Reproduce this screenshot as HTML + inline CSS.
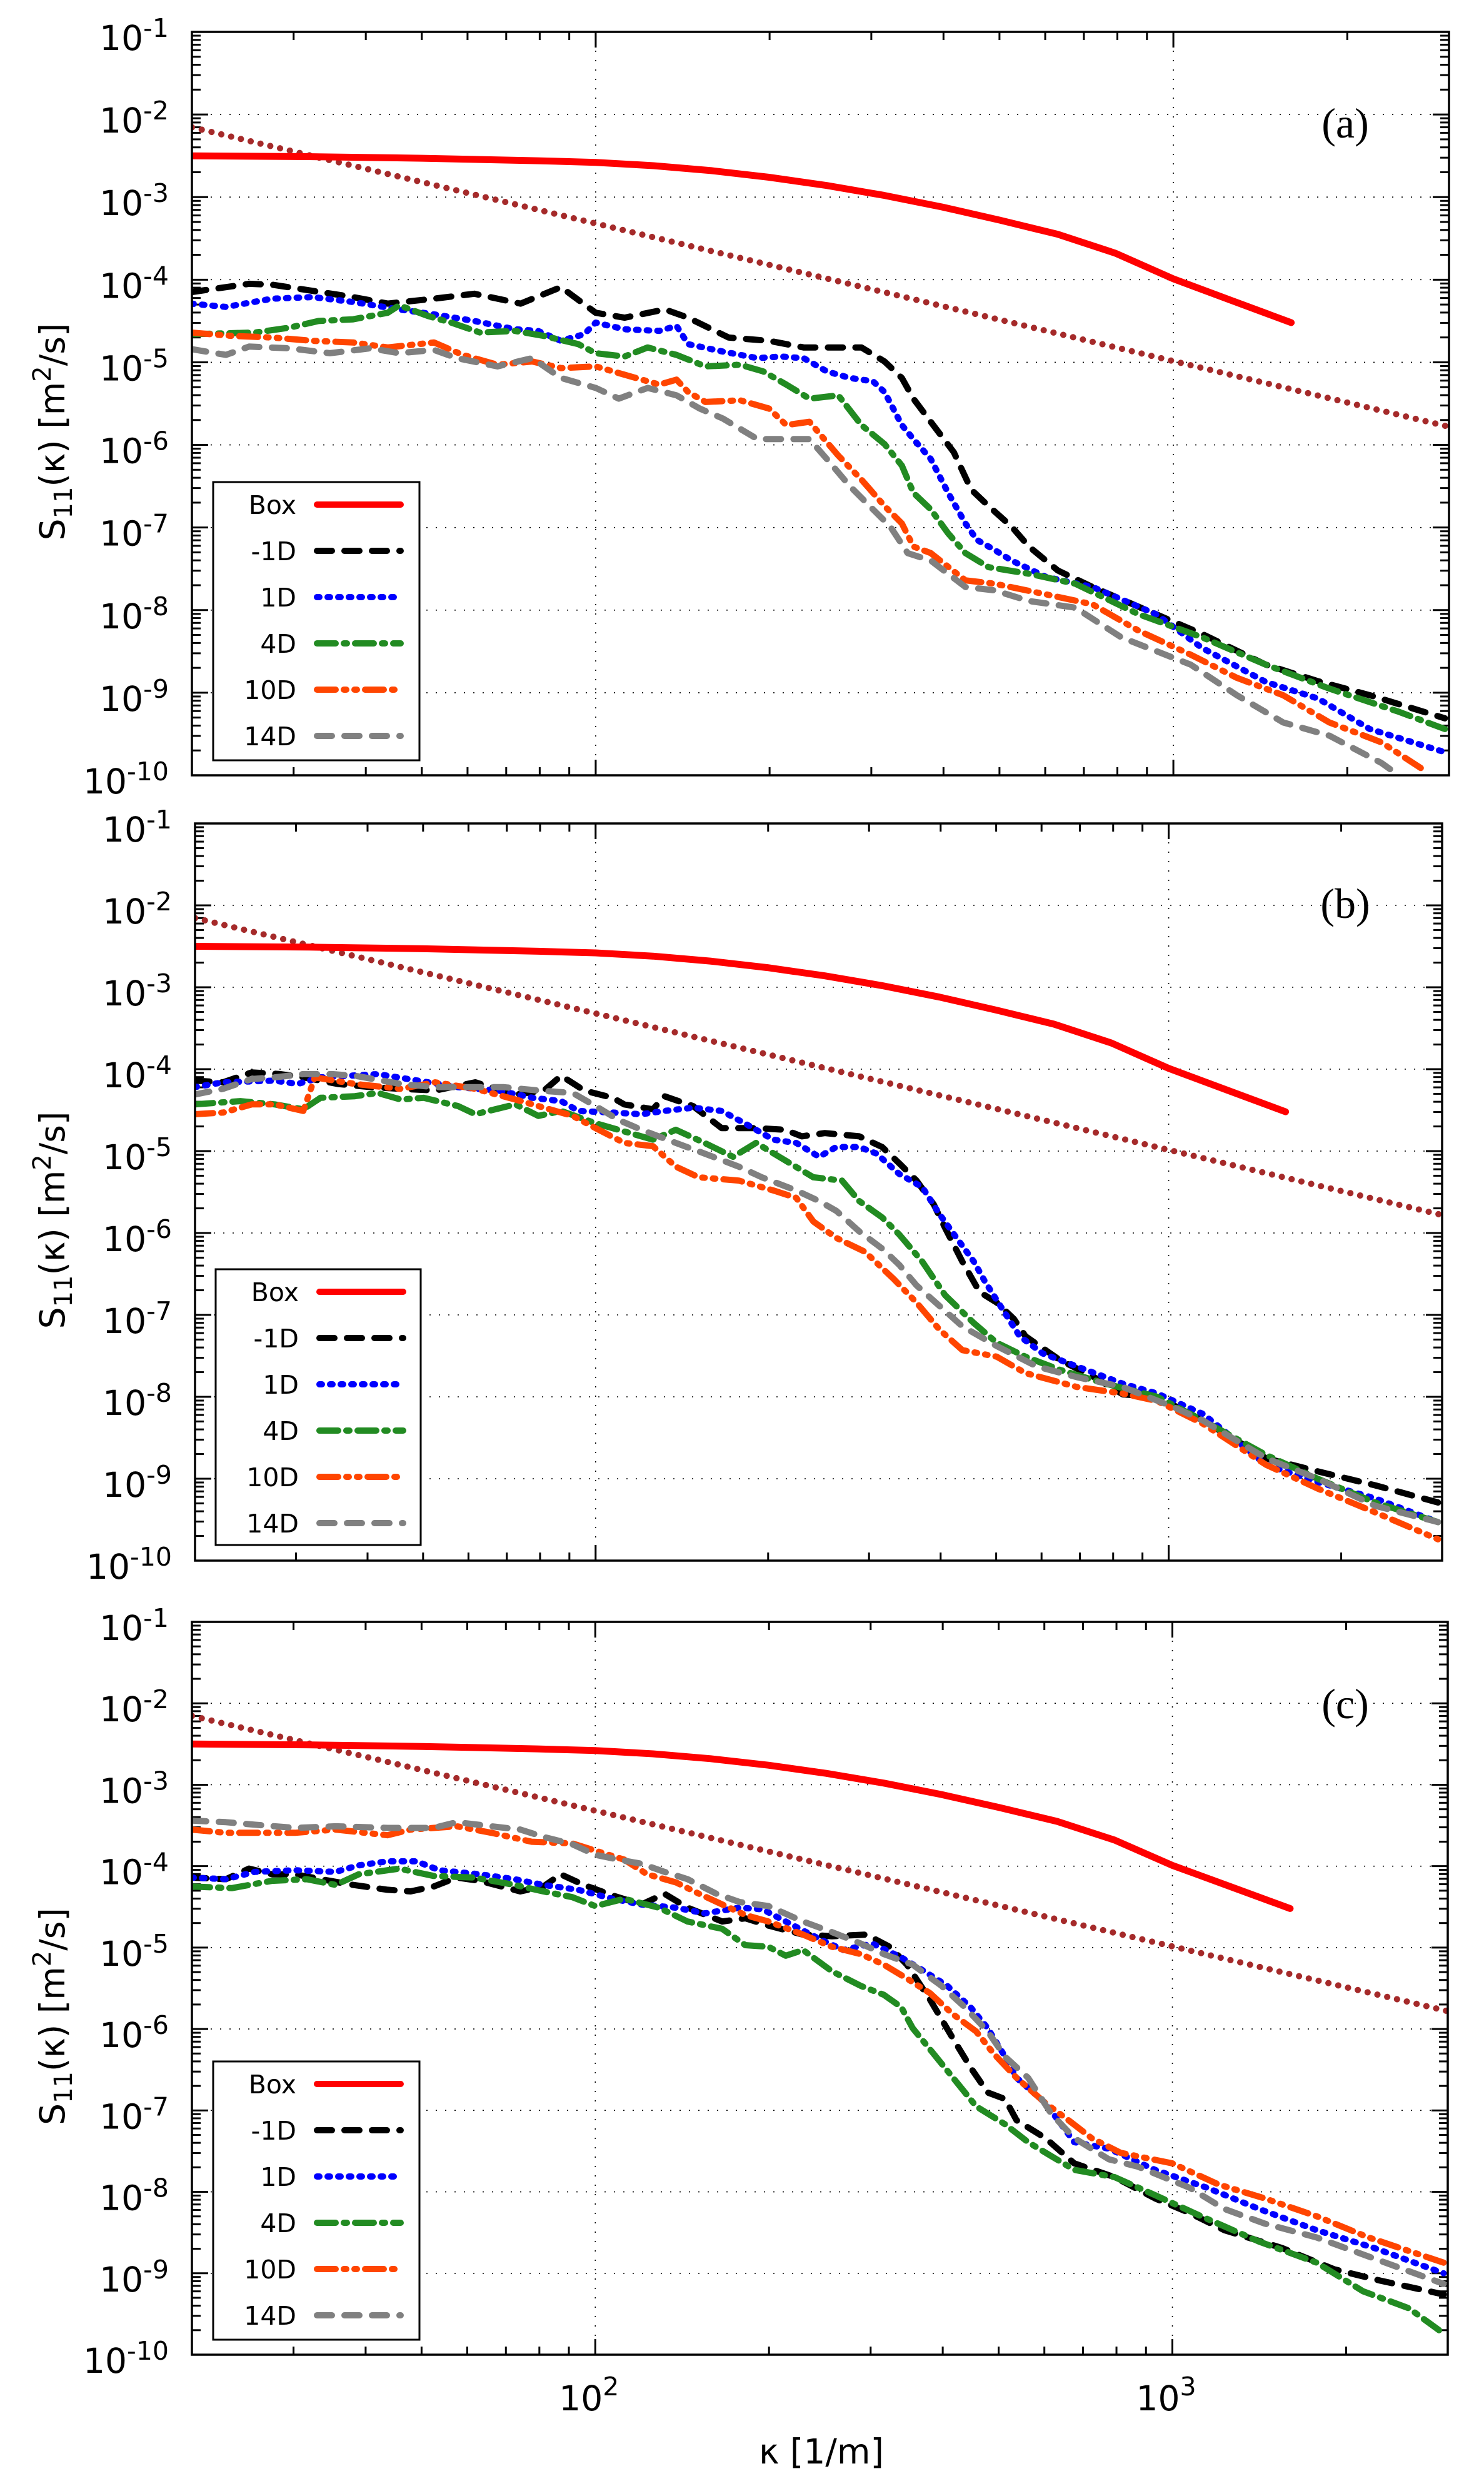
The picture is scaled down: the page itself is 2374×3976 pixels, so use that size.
<!DOCTYPE html>
<html><head><meta charset="utf-8"><style>
html,body{margin:0;padding:0;background:#fff}
svg{display:block}
</style></head><body>
<svg id="chart" xmlns="http://www.w3.org/2000/svg" width="2374" height="3976" viewBox="0 0 2374 3976">
<rect width="2374" height="3976" fill="#fff"/>
</svg>
<script>
// ---- Shared data ----
const boxLogK = [1.301,1.5,1.7,1.9,2.0,2.1,2.2,2.3,2.4,2.5,2.6,2.7,2.8,2.9,3.0,3.1,3.204];
const boxLogS = [-2.50,-2.51,-2.53,-2.56,-2.58,-2.62,-2.68,-2.76,-2.86,-2.98,-3.12,-3.28,-3.45,-3.68,-3.99,-4.25,-4.52];
const refLogK = [1.301,3.477];
const refLogS = [-2.155,-5.78];
const yTickExps = [-1,-2,-3,-4,-5,-6,-7,-8,-9,-10];
const xTickExps = [2,3];
const seriesNames = ["Box","-1D","1D","4D","10D","14D"];

// ---- Panel (a) ----
const a_m1_k=[1.30,1.40,1.44,1.58,1.64,1.72,1.79,1.87,1.94,2.00,2.05,2.12,2.16,2.23,2.30,2.36,2.46,2.50,2.53,2.55,2.58,2.62,2.65,2.68,2.72,2.75,2.80,2.86,2.97,3.05,3.16,3.25,3.34,3.47];
const a_m1_s=[-4.15,-4.05,-4.06,-4.21,-4.29,-4.23,-4.17,-4.29,-4.09,-4.40,-4.46,-4.36,-4.46,-4.70,-4.74,-4.82,-4.82,-4.99,-5.19,-5.44,-5.72,-6.09,-6.54,-6.74,-6.99,-7.23,-7.52,-7.72,-8.05,-8.29,-8.66,-8.86,-9.03,-9.31];
const a_1_k=[1.30,1.36,1.44,1.51,1.58,1.66,1.72,1.79,1.86,1.90,1.94,1.98,2.00,2.05,2.11,2.14,2.16,2.22,2.28,2.32,2.36,2.40,2.44,2.48,2.50,2.53,2.55,2.58,2.61,2.64,2.66,2.69,2.72,2.78,2.86,2.97,3.05,3.16,3.25,3.34,3.47];
const a_1_s=[-4.29,-4.33,-4.23,-4.21,-4.27,-4.36,-4.42,-4.50,-4.60,-4.62,-4.74,-4.66,-4.52,-4.60,-4.62,-4.56,-4.78,-4.87,-4.95,-4.93,-4.95,-5.11,-5.19,-5.23,-5.36,-5.76,-5.93,-6.17,-6.58,-6.95,-7.15,-7.27,-7.40,-7.60,-7.72,-8.05,-8.46,-8.87,-9.07,-9.44,-9.72];
const a_4_k=[1.30,1.41,1.47,1.52,1.58,1.64,1.66,1.71,1.75,1.80,1.86,1.91,1.97,2.00,2.05,2.09,2.14,2.19,2.25,2.29,2.33,2.37,2.42,2.46,2.50,2.53,2.55,2.58,2.61,2.64,2.68,2.75,2.83,2.94,3.05,3.16,3.27,3.39,3.47];
const a_4_s=[-4.66,-4.64,-4.58,-4.50,-4.48,-4.40,-4.31,-4.44,-4.52,-4.64,-4.62,-4.68,-4.78,-4.89,-4.93,-4.82,-4.91,-5.05,-5.03,-5.11,-5.27,-5.44,-5.40,-5.76,-5.99,-6.25,-6.58,-6.78,-7.07,-7.31,-7.48,-7.56,-7.68,-8.05,-8.33,-8.66,-8.95,-9.23,-9.44];
const a_10_k=[1.30,1.37,1.44,1.51,1.58,1.64,1.72,1.77,1.83,1.89,1.94,2.00,2.05,2.11,2.14,2.16,2.19,2.25,2.30,2.33,2.37,2.42,2.46,2.50,2.53,2.55,2.58,2.64,2.69,2.78,2.86,2.94,3.03,3.11,3.19,3.27,3.36,3.43];
const a_10_s=[-4.64,-4.68,-4.70,-4.74,-4.76,-4.82,-4.76,-4.91,-5.03,-4.99,-5.07,-5.05,-5.15,-5.27,-5.21,-5.36,-5.48,-5.46,-5.56,-5.76,-5.72,-6.13,-6.42,-6.74,-6.95,-7.23,-7.31,-7.64,-7.68,-7.81,-7.93,-8.25,-8.54,-8.82,-9.03,-9.36,-9.60,-9.92];
const a_14_k=[1.30,1.36,1.40,1.47,1.54,1.61,1.66,1.72,1.76,1.83,1.89,1.94,2.00,2.04,2.09,2.14,2.18,2.22,2.28,2.33,2.37,2.40,2.44,2.48,2.51,2.54,2.58,2.64,2.69,2.75,2.83,2.91,3.03,3.11,3.19,3.27,3.36,3.39];
const a_14_s=[-4.84,-4.91,-4.81,-4.83,-4.89,-4.83,-4.89,-4.85,-4.95,-5.05,-4.95,-5.19,-5.31,-5.44,-5.31,-5.40,-5.56,-5.68,-5.93,-5.93,-5.93,-6.17,-6.50,-6.78,-6.99,-7.31,-7.40,-7.72,-7.76,-7.89,-7.97,-8.33,-8.66,-9.03,-9.36,-9.52,-9.85,-10.0];

// ---- Panel (b) ----
const b_m1_k=[1.30,1.35,1.40,1.45,1.49,1.55,1.61,1.66,1.72,1.79,1.86,1.91,1.94,1.98,2.03,2.05,2.10,2.12,2.17,2.22,2.28,2.33,2.36,2.40,2.46,2.50,2.53,2.56,2.59,2.61,2.64,2.67,2.70,2.73,2.75,2.81,2.87,2.92,2.98,3.06,3.17,3.26,3.36,3.47];
const b_m1_s=[-4.14,-4.16,-4.04,-4.06,-4.10,-4.18,-4.22,-4.24,-4.26,-4.16,-4.31,-4.26,-4.08,-4.26,-4.35,-4.43,-4.49,-4.33,-4.45,-4.72,-4.72,-4.74,-4.82,-4.78,-4.82,-4.95,-5.15,-5.36,-5.65,-5.94,-6.35,-6.72,-6.85,-7.05,-7.26,-7.55,-7.76,-7.97,-8.00,-8.29,-8.75,-8.91,-9.08,-9.29];
const b_1_k=[1.30,1.35,1.44,1.48,1.52,1.62,1.69,1.76,1.83,1.89,1.94,1.97,2.03,2.08,2.12,2.17,2.22,2.26,2.31,2.35,2.39,2.42,2.46,2.49,2.53,2.57,2.60,2.63,2.66,2.68,2.71,2.74,2.78,2.84,2.92,2.98,3.06,3.17,3.26,3.36,3.47];
const b_1_s=[-4.22,-4.16,-4.14,-4.18,-4.10,-4.06,-4.14,-4.22,-4.26,-4.35,-4.39,-4.51,-4.53,-4.55,-4.51,-4.47,-4.51,-4.66,-4.86,-4.90,-5.07,-4.95,-4.95,-5.03,-5.28,-5.44,-5.77,-6.06,-6.35,-6.60,-6.93,-7.26,-7.47,-7.63,-7.84,-7.96,-8.21,-8.83,-9.04,-9.24,-9.53];
const b_4_k=[1.30,1.38,1.44,1.49,1.52,1.58,1.62,1.66,1.70,1.76,1.79,1.86,1.90,1.94,2.00,2.05,2.10,2.14,2.19,2.24,2.28,2.33,2.38,2.43,2.46,2.50,2.53,2.57,2.61,2.66,2.70,2.75,2.81,2.89,2.98,3.06,3.17,3.26,3.36,3.47];
const b_4_s=[-4.43,-4.39,-4.43,-4.49,-4.35,-4.33,-4.29,-4.37,-4.35,-4.45,-4.55,-4.43,-4.57,-4.51,-4.66,-4.76,-4.86,-4.74,-4.90,-5.07,-4.90,-5.11,-5.32,-5.36,-5.61,-5.81,-6.02,-6.35,-6.76,-7.10,-7.34,-7.51,-7.67,-7.84,-8.00,-8.29,-8.71,-9.00,-9.29,-9.53];
const b_10_k=[1.30,1.35,1.40,1.44,1.49,1.51,1.58,1.66,1.72,1.79,1.86,1.91,1.96,2.00,2.05,2.10,2.14,2.18,2.25,2.31,2.35,2.38,2.42,2.47,2.52,2.56,2.60,2.64,2.70,2.75,2.84,2.92,2.98,3.06,3.17,3.26,3.36,3.47];
const b_10_s=[-4.55,-4.53,-4.43,-4.43,-4.51,-4.10,-4.18,-4.24,-4.16,-4.24,-4.37,-4.47,-4.57,-4.72,-4.90,-4.94,-5.19,-5.32,-5.36,-5.48,-5.57,-5.86,-6.06,-6.23,-6.56,-6.85,-7.18,-7.43,-7.51,-7.71,-7.88,-7.96,-8.05,-8.33,-8.83,-9.12,-9.41,-9.74];
const b_14_k=[1.30,1.35,1.40,1.44,1.49,1.54,1.58,1.66,1.72,1.79,1.84,1.90,1.96,2.00,2.04,2.08,2.14,2.19,2.25,2.29,2.35,2.39,2.42,2.46,2.50,2.53,2.56,2.60,2.64,2.70,2.77,2.84,2.92,3.01,3.06,3.17,3.26,3.36,3.47];
const b_14_s=[-4.31,-4.24,-4.12,-4.10,-4.06,-4.06,-4.08,-4.18,-4.22,-4.22,-4.22,-4.26,-4.29,-4.45,-4.62,-4.74,-4.90,-5.03,-5.19,-5.32,-5.48,-5.61,-5.73,-5.98,-6.19,-6.39,-6.64,-6.89,-7.14,-7.38,-7.63,-7.76,-7.88,-8.13,-8.29,-8.75,-9.00,-9.33,-9.53];

// ---- Panel (c) ----
const c_m1_k=[1.30,1.36,1.40,1.44,1.48,1.54,1.58,1.64,1.68,1.72,1.76,1.80,1.87,1.91,1.94,1.98,2.03,2.08,2.12,2.16,2.22,2.26,2.30,2.36,2.41,2.47,2.51,2.54,2.58,2.62,2.65,2.68,2.71,2.73,2.78,2.83,2.90,2.97,3.03,3.09,3.19,3.28,3.36,3.47];
const c_m1_s=[-4.14,-4.16,-4.03,-4.10,-4.10,-4.18,-4.23,-4.29,-4.31,-4.25,-4.14,-4.18,-4.31,-4.25,-4.10,-4.23,-4.36,-4.47,-4.34,-4.51,-4.68,-4.64,-4.73,-4.84,-4.86,-4.84,-4.99,-5.21,-5.64,-6.12,-6.47,-6.78,-6.86,-7.12,-7.34,-7.65,-7.82,-8.08,-8.26,-8.47,-8.69,-8.95,-9.09,-9.26];
const c_1_k=[1.30,1.36,1.41,1.48,1.55,1.59,1.64,1.69,1.73,1.80,1.86,1.91,1.97,2.03,2.08,2.14,2.19,2.25,2.29,2.33,2.39,2.43,2.48,2.53,2.57,2.61,2.65,2.68,2.71,2.73,2.78,2.83,2.89,2.97,3.06,3.15,3.25,3.35,3.47];
const c_1_s=[-4.14,-4.16,-4.07,-4.05,-4.07,-3.99,-3.94,-3.94,-4.05,-4.10,-4.16,-4.23,-4.29,-4.40,-4.47,-4.51,-4.58,-4.51,-4.53,-4.68,-4.90,-5.03,-4.95,-5.12,-5.29,-5.47,-5.73,-5.99,-6.34,-6.60,-6.91,-7.39,-7.47,-7.73,-7.95,-8.21,-8.47,-8.69,-9.00];
const c_4_k=[1.30,1.37,1.44,1.50,1.55,1.59,1.66,1.72,1.79,1.86,1.91,1.96,2.00,2.05,2.11,2.16,2.22,2.26,2.30,2.33,2.36,2.41,2.46,2.50,2.53,2.55,2.58,2.62,2.66,2.71,2.75,2.79,2.83,2.90,2.97,3.05,3.15,3.25,3.33,3.41,3.47];
const c_4_s=[-4.25,-4.27,-4.18,-4.16,-4.23,-4.10,-4.03,-4.12,-4.14,-4.23,-4.31,-4.38,-4.49,-4.40,-4.51,-4.68,-4.77,-4.97,-4.99,-5.10,-5.03,-5.29,-5.47,-5.58,-5.73,-5.99,-6.25,-6.60,-6.95,-7.17,-7.39,-7.56,-7.73,-7.82,-8.04,-8.30,-8.61,-8.87,-9.22,-9.43,-9.74];
const c_10_k=[1.30,1.36,1.41,1.48,1.55,1.64,1.68,1.72,1.76,1.82,1.89,1.96,2.00,2.05,2.09,2.14,2.18,2.22,2.26,2.30,2.36,2.41,2.46,2.50,2.54,2.58,2.62,2.66,2.69,2.73,2.78,2.82,2.86,2.91,3.00,3.08,3.16,3.25,3.34,3.47];
const c_10_s=[-3.55,-3.59,-3.59,-3.59,-3.55,-3.62,-3.55,-3.53,-3.51,-3.59,-3.70,-3.72,-3.81,-3.92,-4.10,-4.20,-4.34,-4.47,-4.60,-4.68,-4.84,-4.99,-5.08,-5.21,-5.38,-5.56,-5.82,-6.03,-6.30,-6.60,-6.91,-7.12,-7.34,-7.52,-7.65,-7.91,-8.08,-8.30,-8.56,-8.87];
const c_14_k=[1.30,1.36,1.41,1.48,1.55,1.64,1.68,1.72,1.76,1.82,1.87,1.91,1.96,2.00,2.04,2.08,2.12,2.16,2.21,2.25,2.30,2.36,2.41,2.46,2.50,2.55,2.60,2.64,2.68,2.71,2.75,2.79,2.83,2.89,2.94,3.03,3.09,3.16,3.25,3.35,3.47];
const c_14_s=[-3.44,-3.46,-3.49,-3.53,-3.51,-3.53,-3.53,-3.53,-3.46,-3.51,-3.55,-3.64,-3.73,-3.86,-3.92,-3.97,-4.07,-4.16,-4.34,-4.44,-4.49,-4.68,-4.81,-4.95,-5.08,-5.21,-5.47,-5.73,-6.03,-6.34,-6.60,-7.04,-7.34,-7.60,-7.69,-7.95,-8.21,-8.39,-8.56,-8.82,-9.13];

const NS="http://www.w3.org/2000/svg";
const svg=document.getElementById('chart');
function mk(tag,attrs,parent){const e=document.createElementNS(NS,tag);for(const k in attrs)e.setAttribute(k,attrs[k]);(parent||svg).appendChild(e);return e;}

const styles={
 "Box":{color:"#ff0000",dash:""},
 "-1D":{color:"#000000",dash:"24 20"},
 "1D":{color:"#0000ff",dash:"4 13"},
 "4D":{color:"#228b22",dash:"30 13 5 13"},
 "10D":{color:"#ff4500",dash:"30 13 4 13 4 13"},
 "14D":{color:"#808080",dash:"24 20"}
};

const panels=[
 {id:"a",L:307,R:2318,T:51,B:1240,label:"(a)",labY:220,leg:{L:341,R:671,T:771,B:1216},
  series:[["-1D",a_m1_k,a_m1_s],["1D",a_1_k,a_1_s],["4D",a_4_k,a_4_s],["10D",a_10_k,a_10_s],["14D",a_14_k,a_14_s]]},
 {id:"b",L:312,R:2307,T:1317,B:2496,label:"(b)",labY:1468,leg:{L:345,R:673,T:2030,B:2471},
  series:[["-1D",b_m1_k,b_m1_s],["1D",b_1_k,b_1_s],["4D",b_4_k,b_4_s],["10D",b_10_k,b_10_s],["14D",b_14_k,b_14_s]]},
 {id:"c",L:307,R:2316,T:2594,B:3766,label:"(c)",labY:2748,leg:{L:341,R:671,T:3297,B:3742},
  series:[["-1D",c_m1_k,c_m1_s],["1D",c_1_k,c_1_s],["4D",c_4_k,c_4_s],["10D",c_10_k,c_10_s],["14D",c_14_k,c_14_s]]}
];
const KMIN=Math.log10(20), KMAX=Math.log10(3000);

panels.forEach((p,pi)=>{
 const g=mk('g',{});
 
 
 const xs=lk=>p.L+(lk-KMIN)/(KMAX-KMIN)*(p.R-p.L);
 const ys=ls=>p.T+(-1-ls)/9*(p.B-p.T);
 for(let e=-2;e>=-9;e--){const y=ys(e);const gl=mk('line',{x1:p.L,x2:p.R,y1:y,y2:y,stroke:"#000","stroke-width":1.6,"stroke-dasharray":"2 13"},g);
  }
 [2,3].forEach(e=>{const x=xs(e);const gl=mk('line',{x1:x,x2:x,y1:p.T,y2:p.B,stroke:"#000","stroke-width":1.6,"stroke-dasharray":"2 13"},g);
  });
 const tk=mk('g',{stroke:"#000","stroke-width":3},g);
 
 for(let e=-1;e>=-10;e--){
  const y=ys(e);
  mk('line',{x1:p.L,x2:p.L+26,y1:y,y2:y},tk);mk('line',{x1:p.R,x2:p.R-26,y1:y,y2:y},tk);
  if(e>-10)for(let m=2;m<=9;m++){const yy=ys(e-1+Math.log10(m));
   mk('line',{x1:p.L,x2:p.L+14,y1:yy,y2:yy},tk);mk('line',{x1:p.R,x2:p.R-14,y1:yy,y2:yy},tk);}
 }
 const xt=[30,40,50,60,70,80,90,100,200,300,400,500,600,700,800,900,1000,2000,3000];
 xt.forEach(v=>{const x=xs(Math.log10(v));const len=(v===100||v===1000)?25:13;
  if(x>p.R-1)return;
  mk('line',{x1:x,x2:x,y1:p.B,y2:p.B-len},tk);mk('line',{x1:x,x2:x,y1:p.T,y2:p.T+len},tk);});
 yTickExps.forEach(e=>{const y=ys(e);
  const t=mk('text',{x:p.L-37,y:y+29,"text-anchor":"end","font-family":"DejaVu Sans, Liberation Sans, sans-serif","font-size":55,fill:"#000"},g);
  
  t.appendChild(document.createTextNode("10"));
  const s=mk('tspan',{dy:-21,"font-size":41},t);s.textContent=String(e);
 });
 const cy=(p.T+p.B)/2+45;
 const yt=mk('text',{x:0,y:0,transform:`translate(103,${cy}) rotate(-90)`,"text-anchor":"middle","font-family":"DejaVu Sans, Liberation Sans, sans-serif","font-size":55,fill:"#000"},g);
 
 yt.appendChild(document.createTextNode("S"));
 const sub=mk('tspan',{dy:12,"font-size":40},yt);sub.textContent="11";
 const r1=mk('tspan',{dy:-12},yt);r1.textContent="(κ) [m";
 const sup=mk('tspan',{dy:-22,"font-size":40},yt);sup.textContent="2";
 const r2=mk('tspan',{dy:22},yt);r2.textContent="/s]";
 const cp=mk('clipPath',{id:'clip'+p.id},g);mk('rect',{x:p.L,y:p.T,width:p.R-p.L,height:p.B-p.T},cp);
 const dg=mk('g',{"clip-path":`url(#clip${p.id})`,fill:"none","stroke-linecap":"round","stroke-linejoin":"round"},g);
 const path=(ks,ss)=>ks.map((k,i)=>(i?'L':'M')+xs(k).toFixed(1)+' '+ys(ss[i]).toFixed(1)).join(' ');
 const rl=mk('path',{d:path(refLogK,refLogS),stroke:"#a52a2a","stroke-width":10,"stroke-dasharray":"0.1 16"},dg);
 
 const bl=mk('path',{d:path(boxLogK,boxLogS),stroke:styles.Box.color,"stroke-width":11},dg);
 
 p.series.forEach(s=>{const st=styles[s[0]];
  const pl=mk('path',{d:path(s[1],s[2]),stroke:st.color,"stroke-width":10,"stroke-dasharray":st.dash},dg);
  
  
 });
 const fr=mk('rect',{x:p.L,y:p.T,width:p.R-p.L,height:p.B-p.T,fill:"none",stroke:"#000","stroke-width":3.5},g);
 
 const lg=mk('g',{},g);
 
 mk('rect',{x:p.leg.L,y:p.leg.T,width:p.leg.R-p.leg.L,height:p.leg.B-p.leg.T,fill:"#fff",stroke:"#000","stroke-width":3},lg);
 seriesNames.forEach((n,i)=>{const y=p.leg.T+36+i*74;const st=styles[n];
  const le=mk('g',{},lg);
  
  const t=mk('text',{x:p.leg.L+133,y:y+15,"text-anchor":"end","font-family":"DejaVu Sans, Liberation Sans, sans-serif","font-size":41,fill:"#000"},le);
  t.textContent=n;
  mk('line',{x1:p.leg.L+166,x2:p.leg.L+300,y1:y,y2:y,stroke:st.color,"stroke-width":10,"stroke-linecap":"round","stroke-dasharray":st.dash},le);
 });
 const pl=mk('text',{x:2152,y:p.labY,"text-anchor":"middle","font-family":"Liberation Serif, serif","font-size":68,fill:"#000"},g);
 
 pl.textContent=p.label;
 if(pi===2){
  xTickExps.forEach(e=>{const x=xs(e);
   const t=mk('text',{x:x-10,y:3855,"text-anchor":"middle","font-family":"DejaVu Sans, Liberation Sans, sans-serif","font-size":55,fill:"#000"},g);
   
   t.appendChild(document.createTextNode("10"));
   const s=mk('tspan',{dy:-24,"font-size":41},t);s.textContent=String(e);
  });
  const xt2=mk('text',{x:1314,y:3940,"text-anchor":"middle","font-family":"DejaVu Sans, Liberation Sans, sans-serif","font-size":55,fill:"#000"},g);
  
  xt2.textContent="κ [1/m]";
 }
});
</script>
</body></html>
